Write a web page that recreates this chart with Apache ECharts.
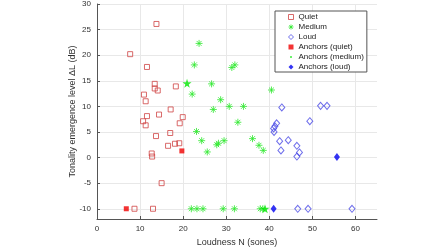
<!DOCTYPE html>
<html>
<head>
<meta charset="utf-8">
<script src="https://cdn.jsdelivr.net/npm/echarts@6/dist/echarts.min.js"></script>
<style>
  html, body { margin: 0; padding: 0; background: #fff; }
  #chart { width: 448px; height: 252px; }
</style>
</head>
<body>
<div id="chart"></div>
<script>
// loudness N (sones), tonality emergence level dL (dB)
const quiet = [
  [7.7, 20.2], [13.8, 26.1], [11.6, 17.7], [13.4, 14.4], [13.4, 13.5], [14.1, 13.1],
  [18.3, 13.9], [10.9, 12.3], [11.3, 11.0], [17.1, 9.4], [14.4, 8.4], [11.6, 8.1],
  [19.9, 7.9], [10.7, 7.1], [11.3, 6.3], [19.2, 6.7], [17.0, 4.8], [13.7, 4.2],
  [16.5, 2.3], [18.1, 2.7], [19.1, 2.8], [12.7, 0.8], [12.8, 0.2], [15.0, -5.0],
  [8.7, -10], [13.0, -10],
];
const medium = [
  [23.7, 22.3], [22.6, 18.1], [31.3, 17.6], [32.0, 18.1], [26.6, 14.4], [22.1, 12.4],
  [28.7, 11.3], [30.7, 10.0], [34.0, 10.0], [27.0, 9.4], [32.7, 6.9], [40.5, 13.2],
  [23.1, 5.1], [24.3, 3.3], [25.6, 1.1], [27.8, 2.5], [28.2, 2.8], [29.5, 3.3],
  [36.1, 3.7], [37.6, 2.4], [38.6, 1.4],
  [21.9, -10], [23.2, -10], [24.6, -10], [29.3, -10], [31.9, -10], [37.9, -10], [38.5, -10],
];
const loud = [
  [42.9, 9.8], [51.9, 10.1], [53.4, 10.1], [49.4, 7.1], [41.7, 6.7], [41.3, 6.1],
  [41.0, 5.7], [41.1, 5.0], [42.4, 3.2], [44.4, 3.4], [42.7, 1.4], [46.4, 2.3],
  [47.0, 1.0], [46.4, 0.2], [46.6, -10], [49.0, -10], [59.2, -10],
];
const anchorsQuiet = [[6.8, -10], [19.7, 1.3]];
const anchorsMedium = [[20.9, 14.5], [39.0, -10]];
const anchorsLoud = [[41.0, -10], [55.7, 0.1]];

const xTicks = [0, 10, 20, 30, 40, 50, 60];
const yTicks = [-10, -5, 0, 5, 10, 15, 20, 25, 30];

const asterisk = "path://M5,0 L5,10 M0,5 L10,5 M1.5,1.5 L8.5,8.5 M1.5,8.5 L8.5,1.5";
const star = "path://M0,-1 L0.2245,-0.309 L0.9511,-0.309 L0.3633,0.118 L0.5878,0.809 L0,0.382 L-0.5878,0.809 L-0.3633,0.118 L-0.9511,-0.309 L-0.2245,-0.309 Z";
// small dot inside a padded box, for the legend
const smallDot = "path://M0,0 M10,10 M5,3 L6.4,3.6 L7,5 L6.4,6.4 L5,7 L3.6,6.4 L3,5 L3.6,3.6 Z";
const font = "Liberation Sans";
const axisColor = "#555";
const textColor = "#303030";

const colors = {
  quiet: "#d04545",
  medium: "#2ee82e",
  loud: "#4a4ae6",
  anchorQuiet: "#f00000",
  anchorMedium: "#00e600",
  anchorLoud: "#0000f0",
};

const chart = echarts.init(document.getElementById("chart"), null, { renderer: "canvas" });

chart.setOption({
  animation: false,
  backgroundColor: "#fff",
  grid: { left: 97, right: 71, top: 4, bottom: 28 },
  xAxis: {
    type: "value",
    min: 0,
    max: 65,
    name: "Loudness N (sones)",
    nameLocation: "middle",
    nameGap: 19,
    nameMoveOverlap: false,
    nameTextStyle: { fontFamily: font, fontSize: 9, color: textColor },
    axisLine: { show: true, onZero: false, lineStyle: { color: axisColor, width: 1 } },
    axisTick: { show: true, inside: true, length: 3, customValues: xTicks, lineStyle: { color: axisColor } },
    axisLabel: { customValues: xTicks, fontFamily: font, fontSize: 8, color: textColor, margin: 6 },
    splitLine: { show: true, lineStyle: { color: "#e8e8e8", width: 1 } },
  },
  yAxis: {
    type: "value",
    min: -12,
    max: 30,
    name: "Tonality emergence level \u0394L (dB)",
    nameLocation: "middle",
    nameGap: 20,
    nameMoveOverlap: false,
    nameTextStyle: { fontFamily: font, fontSize: 9, color: textColor },
    axisLine: { show: true, onZero: false, lineStyle: { color: axisColor, width: 1 } },
    axisTick: { show: true, inside: true, length: 3, customValues: yTicks, lineStyle: { color: axisColor } },
    axisLabel: { customValues: yTicks, fontFamily: font, fontSize: 8, color: textColor, margin: 6 },
    splitLine: { show: true, lineStyle: { color: "#e8e8e8", width: 1 } },
  },
  legend: {
    orient: "vertical",
    left: 275,
    top: 11,
    padding: [2, 3, 1, 13],
    itemWidth: 5,
    itemHeight: 5,
    itemGap: 2,
    itemTextGap: 12,
    backgroundColor: "#fff",
    borderColor: "#555",
    borderWidth: 1,
    borderRadius: 0,
    textStyle: { fontFamily: font, fontSize: 8, color: "#222" },
    data: [
      { name: "Quiet", icon: "rect", itemStyle: { color: "rgba(0,0,0,0)", borderColor: colors.quiet, borderWidth: 1 } },
      { name: "Medium", icon: asterisk, itemStyle: { color: "rgba(0,0,0,0)", borderColor: colors.medium, borderWidth: 1 } },
      { name: "Loud", icon: "diamond", itemStyle: { color: "rgba(0,0,0,0)", borderColor: colors.loud, borderWidth: 1 } },
      { name: "Anchors (quiet)", icon: "rect", itemStyle: { color: colors.anchorQuiet } },
      { name: "Anchors (medium)", icon: smallDot, itemStyle: { color: colors.anchorMedium } },
      { name: "Anchors (loud)", icon: "diamond", itemStyle: { color: colors.anchorLoud } },
    ],
  },
  series: [
    {
      name: "Quiet",
      type: "scatter",
      data: quiet,
      symbol: "rect",
      symbolSize: 5,
      itemStyle: { color: "rgba(0,0,0,0)", borderColor: colors.quiet, borderWidth: 1 },
    },
    {
      name: "Medium",
      type: "scatter",
      data: medium,
      symbol: asterisk,
      symbolSize: 7,
      itemStyle: { color: "rgba(0,0,0,0)", borderColor: colors.medium, borderWidth: 1 },
    },
    {
      name: "Loud",
      type: "scatter",
      data: loud,
      symbol: "diamond",
      symbolSize: [6, 7],
      itemStyle: { color: "rgba(0,0,0,0)", borderColor: colors.loud, borderWidth: 1 },
    },
    {
      name: "Anchors (quiet)",
      type: "scatter",
      data: anchorsQuiet,
      symbol: "rect",
      symbolSize: 5,
      itemStyle: { color: colors.anchorQuiet },
    },
    {
      name: "Anchors (medium)",
      type: "scatter",
      data: anchorsMedium,
      symbol: star,
      symbolSize: 9,
      itemStyle: { color: colors.anchorMedium },
    },
    {
      name: "Anchors (loud)",
      type: "scatter",
      data: anchorsLoud,
      symbol: "diamond",
      symbolSize: [6, 8],
      itemStyle: { color: colors.anchorLoud },
    },
  ],
});
</script>
</body>
</html>
